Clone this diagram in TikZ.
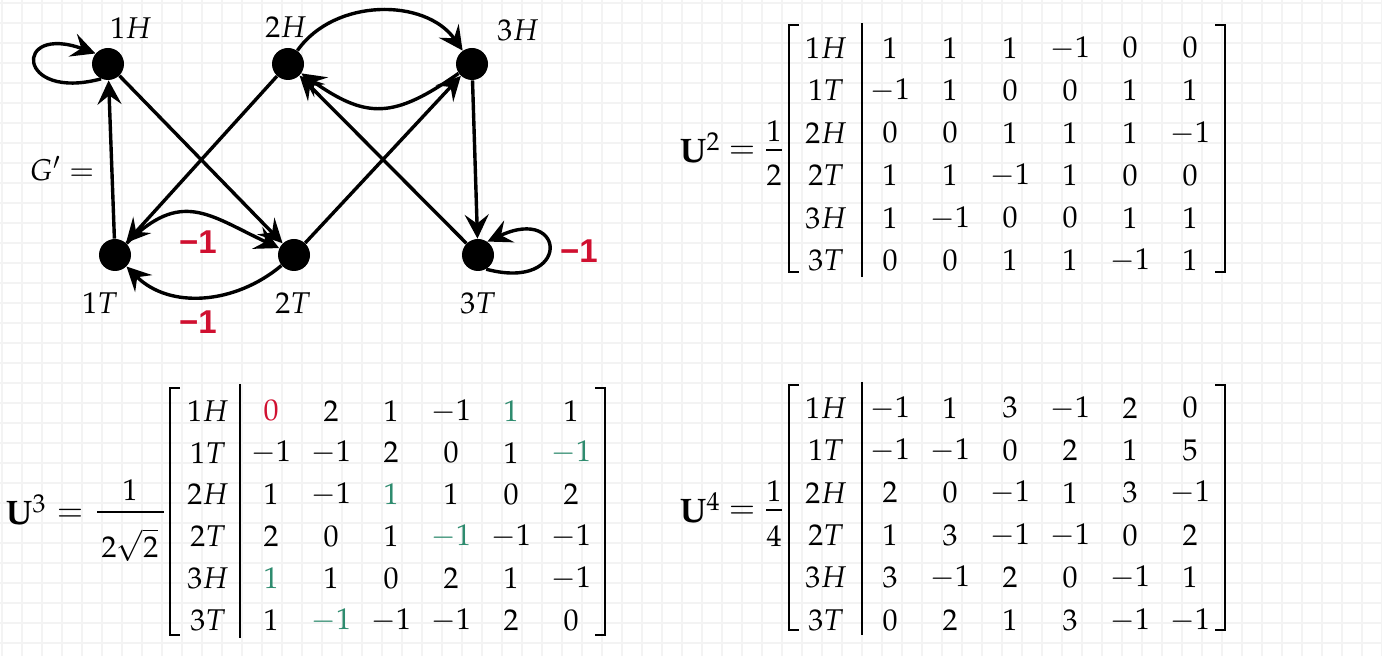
\documentclass[tikz,border=0pt]{standalone}
\usepackage{amsmath}
\usepackage{mathpazo}
\usepackage[no-math]{fontspec}
\newfontfamily\lblfont{Liberation Sans}
\usetikzlibrary{arrows.meta}
\definecolor{myred}{RGB}{208,16,48}
\definecolor{mygreen}{RGB}{46,139,110}
\definecolor{gridc}{RGB}{243,243,243}
\begin{document}
\begin{tikzpicture}[x=0.5pt,y=0.5pt,
  vert/.style={circle,fill=black,minimum size=16pt,inner sep=0pt},
  edge/.style={line width=1.7pt,-{Stealth[length=12pt,width=12pt,inset=4.5pt]}},
  glabel/.style={font=\fontsize{15}{17}\selectfont,inner sep=0pt},
  wlabel/.style={font=\lblfont\bfseries\fontsize{16.5}{18}\selectfont,text=myred,inner sep=0pt},
  cell/.style={font=\fontsize{15}{17}\selectfont,inner sep=0pt},
  bigU/.style={font=\fontsize{17}{19}\selectfont,inner sep=0pt},
  eqs/.style={font=\fontsize{16}{18}\selectfont,inner sep=0pt},
  brk/.style={line width=1.2pt},
  sepbar/.style={line width=0.9pt},
  fbar/.style={line width=0.8pt},
]
\useasboundingbox (0,0) rectangle (1382,-656);
\fill[white] (0,0) rectangle (1382,-656);
% background grid
\foreach \x in {2,22,...,1382} \draw[gridc,line width=0.9pt] (\x,0) -- (\x,-656);
\foreach \y in {3,23,...,656} \draw[gridc,line width=0.9pt] (0,-\y) -- (1382,-\y);

% ---------- graph ----------
\node[vert] (n1H) at (108,-64) {};
\node[vert] (n2H) at (288,-64) {};
\node[vert] (n3H) at (472,-64) {};
\node[vert] (n1T) at (115,-255) {};
\node[vert] (n2T) at (294,-255) {};
\node[vert] (n3T) at (478,-255) {};

\node[glabel] (l1H) at (131,-28) {$1H$};
\node[glabel] (l2H) at (286,-27) {$2H$};
\node[glabel] (l3H) at (518,-30) {$3H$};
\node[glabel] (l1T) at (100,-303) {$1T$};
\node[glabel] (l2T) at (293,-303) {$2T$};
\node[glabel] (l3T) at (478,-303) {$3T$};
\node[glabel] (lG) at (62,-169) {$G' =$};

\draw[edge] (n1T) -- (n1H);
\draw[edge] (n1H) -- (n2T);
\draw[edge] (n2H) -- (n1T);
\draw[edge] (n2T) -- (n3H);
\draw[edge] (n3T) -- (n2H);
\draw[edge] (n3H) -- (n3T);
\draw[edge] (n2H) to[out=55,in=125] (n3H);
\draw[edge] (n3H) to[out=-145,in=-35,looseness=1.3] (n2H);
\draw[edge] (n1T) to[out=45,in=155,looseness=1.3] (n2T);
\draw[edge] (n2T) to[out=-140,in=-45] (n1T);
\draw[edge] (n1H.-115) .. controls +(195:88) and +(160:88) .. (n1H.140);
\draw[edge] (n3T.-60) .. controls +(-15:88) and +(25:88) .. (n3T.55);

\node[wlabel] (w1) at (198,-242) {−1};
\node[wlabel] (w2) at (198,-322) {−1};
\node[wlabel] (w3) at (579,-251) {−1};

% ---------- U^2 ----------
\node[bigU,anchor=base west] (U2) at (679,-163) {$\mathbf{U}^{2}$};
\node[eqs] (E2) at (742,-152) {$=$};
\node[cell] (N2) at (774,-131) {$1$};
\draw[fbar] (766,-150) -- (782,-150);
\node[cell] (D2) at (774,-175) {$2$};
\draw[brk] (799,-25) -- (789,-25) -- (789,-272) -- (799,-272);
\draw[brk] (1215,-25) -- (1225,-25) -- (1225,-272) -- (1215,-272);
\draw[sepbar] (862,-23) -- (862,-277);
\foreach \lab [count=\r] in {1H,1T,2H,2T,3H,3T}
  \node[cell] (a-\r) at (826,{-48-42.5*(\r-1)}) {$\lab$};
\foreach \row [count=\r] in {{1,1,1,-1,0,0},{-1,1,0,0,1,1},{0,0,1,1,1,-1},{1,1,-1,1,0,0},{1,-1,0,0,1,1},{0,0,1,1,-1,1}}
  \foreach \v [count=\c] in \row
    \node[cell] (a-\r-\c) at ({890+60*(\c-1)},{-48-42.5*(\r-1)}) {$\v$};

% ---------- U^3 ----------
\node[bigU,anchor=base west] (U3) at (5,-525) {$\mathbf{U}^{3}$};
\node[eqs] (E3) at (70,-515) {$=$};
\node[cell] (N3) at (130,-490) {$1$};
\draw[fbar] (97,-512) -- (164,-512);
\node[cell] (D3) at (130,-545) {$2\sqrt{2}$};
\draw[brk] (180,-388) -- (170,-388) -- (170,-635) -- (180,-635);
\draw[brk] (595,-388) -- (605,-388) -- (605,-635) -- (595,-635);
\draw[sepbar] (240,-384) -- (240,-638);
\foreach \lab [count=\r] in {1H,1T,2H,2T,3H,3T}
  \node[cell] (b-\r) at (208,{-411-41.8*(\r-1)}) {$\lab$};
\foreach \row [count=\r] in {{\textcolor{myred}{0},2,1,-1,\textcolor{mygreen}{1},1},{-1,-1,2,0,1,\textcolor{mygreen}{-1}},{1,-1,\textcolor{mygreen}{1},1,0,2},{2,0,1,\textcolor{mygreen}{-1},-1,-1},{\textcolor{mygreen}{1},1,0,2,1,-1},{1,\textcolor{mygreen}{-1},-1,-1,2,0}}
  \foreach \v [count=\c] in \row
    \node[cell] (b-\r-\c) at ({271+60*(\c-1)},{-411-41.8*(\r-1)}) {$\v$};

% ---------- U^4 ----------
\node[bigU,anchor=base west] (U4) at (679,-523) {$\mathbf{U}^{4}$};
\node[eqs] (E4) at (742,-512) {$=$};
\node[cell] (N4) at (774,-491) {$1$};
\draw[fbar] (766,-510) -- (782,-510);
\node[cell] (D4) at (774,-536) {$4$};
\draw[brk] (799,-385) -- (789,-385) -- (789,-630) -- (799,-630);
\draw[brk] (1215,-385) -- (1225,-385) -- (1225,-630) -- (1215,-630);
\draw[sepbar] (862,-382) -- (862,-635);
\foreach \lab [count=\r] in {1H,1T,2H,2T,3H,3T}
  \node[cell] (c-\r) at (826,{-408-42.4*(\r-1)}) {$\lab$};
\foreach \row [count=\r] in {{-1,1,3,-1,2,0},{-1,-1,0,2,1,5},{2,0,-1,1,3,-1},{1,3,-1,-1,0,2},{3,-1,2,0,-1,1},{0,2,1,3,-1,-1}}
  \foreach \v [count=\c] in \row
    \node[cell] (c-\r-\c) at ({890+60*(\c-1)},{-408-42.4*(\r-1)}) {$\v$};
\end{tikzpicture}
\end{document}
